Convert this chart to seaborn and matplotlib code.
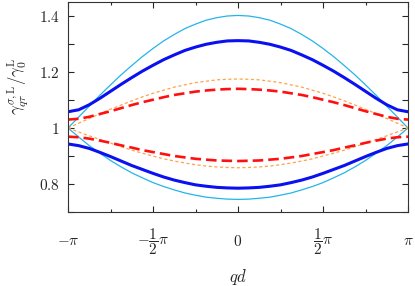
import numpy as np
import pandas as pd
import matplotlib
matplotlib.use("Agg")
import matplotlib.pyplot as plt
import seaborn as sns

sns.set_style("ticks")
plt.rcParams["mathtext.fontset"] = "cm"
plt.rcParams["font.family"] = ["DejaVu Serif"]

# qd sampled every pi/16 from -pi to pi
qd = np.linspace(-np.pi, np.pi, 33)

# values (symmetric about qd = 0)
cyan_up = [1.000, 1.039, 1.078, 1.117, 1.154, 1.190, 1.223, 1.255, 1.284,
           1.311, 1.334, 1.355, 1.371, 1.385, 1.394, 1.400, 1.402,
           1.400, 1.394, 1.385, 1.371, 1.355, 1.334, 1.311, 1.284,
           1.255, 1.223, 1.190, 1.154, 1.117, 1.078, 1.039, 1.000]
cyan_lo = [1.000, 0.968, 0.937, 0.910, 0.884, 0.861, 0.840, 0.822, 0.805,
           0.791, 0.779, 0.768, 0.760, 0.753, 0.749, 0.746, 0.745,
           0.746, 0.749, 0.753, 0.760, 0.768, 0.779, 0.791, 0.805,
           0.822, 0.840, 0.861, 0.884, 0.910, 0.937, 0.968, 1.000]
blue_up = [1.058, 1.065, 1.083, 1.106, 1.131, 1.156, 1.180, 1.203, 1.224,
           1.244, 1.261, 1.277, 1.289, 1.299, 1.306, 1.311, 1.312,
           1.311, 1.306, 1.299, 1.289, 1.277, 1.261, 1.244, 1.224,
           1.203, 1.180, 1.156, 1.131, 1.106, 1.083, 1.065, 1.058]
blue_lo = [0.943, 0.937, 0.927, 0.913, 0.898, 0.882, 0.866, 0.852, 0.838,
           0.825, 0.814, 0.805, 0.797, 0.792, 0.788, 0.786, 0.785,
           0.786, 0.788, 0.792, 0.797, 0.805, 0.814, 0.825, 0.838,
           0.852, 0.866, 0.882, 0.898, 0.913, 0.927, 0.937, 0.943]
orange_up = [1.000, 1.017, 1.034, 1.051, 1.067, 1.082, 1.097, 1.111, 1.124,
             1.135, 1.146, 1.154, 1.162, 1.167, 1.172, 1.174, 1.175,
             1.174, 1.172, 1.167, 1.162, 1.154, 1.146, 1.135, 1.124,
             1.111, 1.097, 1.082, 1.067, 1.051, 1.034, 1.017, 1.000]
orange_lo = [1.000, 0.986, 0.972, 0.959, 0.946, 0.933, 0.921, 0.910, 0.900,
             0.890, 0.882, 0.875, 0.869, 0.864, 0.861, 0.859, 0.858,
             0.859, 0.861, 0.864, 0.869, 0.875, 0.882, 0.890, 0.900,
             0.910, 0.921, 0.933, 0.946, 0.959, 0.972, 0.986, 1.000]
red_up = [1.030, 1.033, 1.040, 1.050, 1.060, 1.071, 1.082, 1.092, 1.101,
          1.110, 1.118, 1.124, 1.130, 1.134, 1.137, 1.139, 1.140,
          1.139, 1.137, 1.134, 1.130, 1.124, 1.118, 1.110, 1.101,
          1.092, 1.082, 1.071, 1.060, 1.050, 1.040, 1.033, 1.030]
red_lo = [0.969, 0.967, 0.962, 0.955, 0.947, 0.938, 0.930, 0.921, 0.914,
          0.907, 0.900, 0.895, 0.890, 0.887, 0.884, 0.883, 0.882,
          0.883, 0.884, 0.887, 0.890, 0.895, 0.900, 0.907, 0.914,
          0.921, 0.930, 0.938, 0.947, 0.955, 0.962, 0.967, 0.969]

xticks = [-np.pi, -np.pi / 2, 0, np.pi / 2, np.pi]
xticklabels = [r"$-\pi$", r"$-\dfrac{1}{2}\pi$", r"$0$", r"$\dfrac{1}{2}\pi$", r"$\pi$"]
yticks = [0.8, 1.0, 1.2, 1.4]
yticklabels = [r"$0.8$", r"$1$", r"$1.2$", r"$1.4$"]

fig = plt.figure(figsize=(4.15, 2.86), dpi=100)
ax = fig.add_axes([68 / 415, 74 / 286, 340 / 415, 210 / 286])

styles = [
    (cyan_up, dict(color="#25b4ea", lw=0.9)),
    (cyan_lo, dict(color="#25b4ea", lw=0.9)),
    (orange_up, dict(color="#ffa24a", lw=0.9, dashes=(2.5, 2))),
    (orange_lo, dict(color="#ffa24a", lw=0.9, dashes=(2.5, 2))),
    (blue_up, dict(color="#0a10f0", lw=2.2)),
    (blue_lo, dict(color="#0a10f0", lw=2.2)),
    (red_up, dict(color="#ff1010", lw=1.9, dashes=(4, 1.9))),
    (red_lo, dict(color="#ff1010", lw=1.9, dashes=(4, 1.9))),
]
for vals, kw in styles:
    dashes = kw.pop("dashes", None)
    line = sns.lineplot(x=qd, y=vals, ax=ax, sort=False, **kw).lines[-1]
    if dashes is not None:
        line.set_dashes(dashes)

ax.set_xlim(-np.pi, np.pi)
ax.set_ylim(0.7, 1.45)
ax.set_xticks(xticks)
ax.set_xticklabels(xticklabels, fontsize=11)
ax.set_xticks(np.arange(-4, 5) * np.pi / 4, minor=True)
ax.set_yticks(yticks)
ax.set_yticklabels(yticklabels, fontsize=11)
ax.set_yticks(np.arange(0.7, 1.46, 0.1), minor=True)

ax.tick_params(which="both", direction="in", top=True, right=True, width=0.8)
ax.tick_params(axis="y", which="both", length=4, pad=6)
ax.tick_params(axis="x", which="major", length=4, pad=21)
ax.tick_params(axis="x", which="minor", length=2)
for lab in ax.get_xticklabels():
    lab.set_verticalalignment("center")
for s in ax.spines.values():
    s.set_linewidth(0.8)
    s.set_color("#333333")

ax.set_xlabel(r"$qd$", fontsize=12)
ax.xaxis.label.set_verticalalignment("center")
ax.xaxis.set_label_coords(0.5, -65 / 210)
ax.set_ylabel(r"$\gamma^{\sigma,\mathrm{L}}_{q\tau}/\gamma^{\mathrm{L}}_{0}$", fontsize=12)
ax.yaxis.label.set_verticalalignment("center")
ax.yaxis.set_label_coords(-50 / 340, 0.6)

fig.savefig("out.png", dpi=100)
